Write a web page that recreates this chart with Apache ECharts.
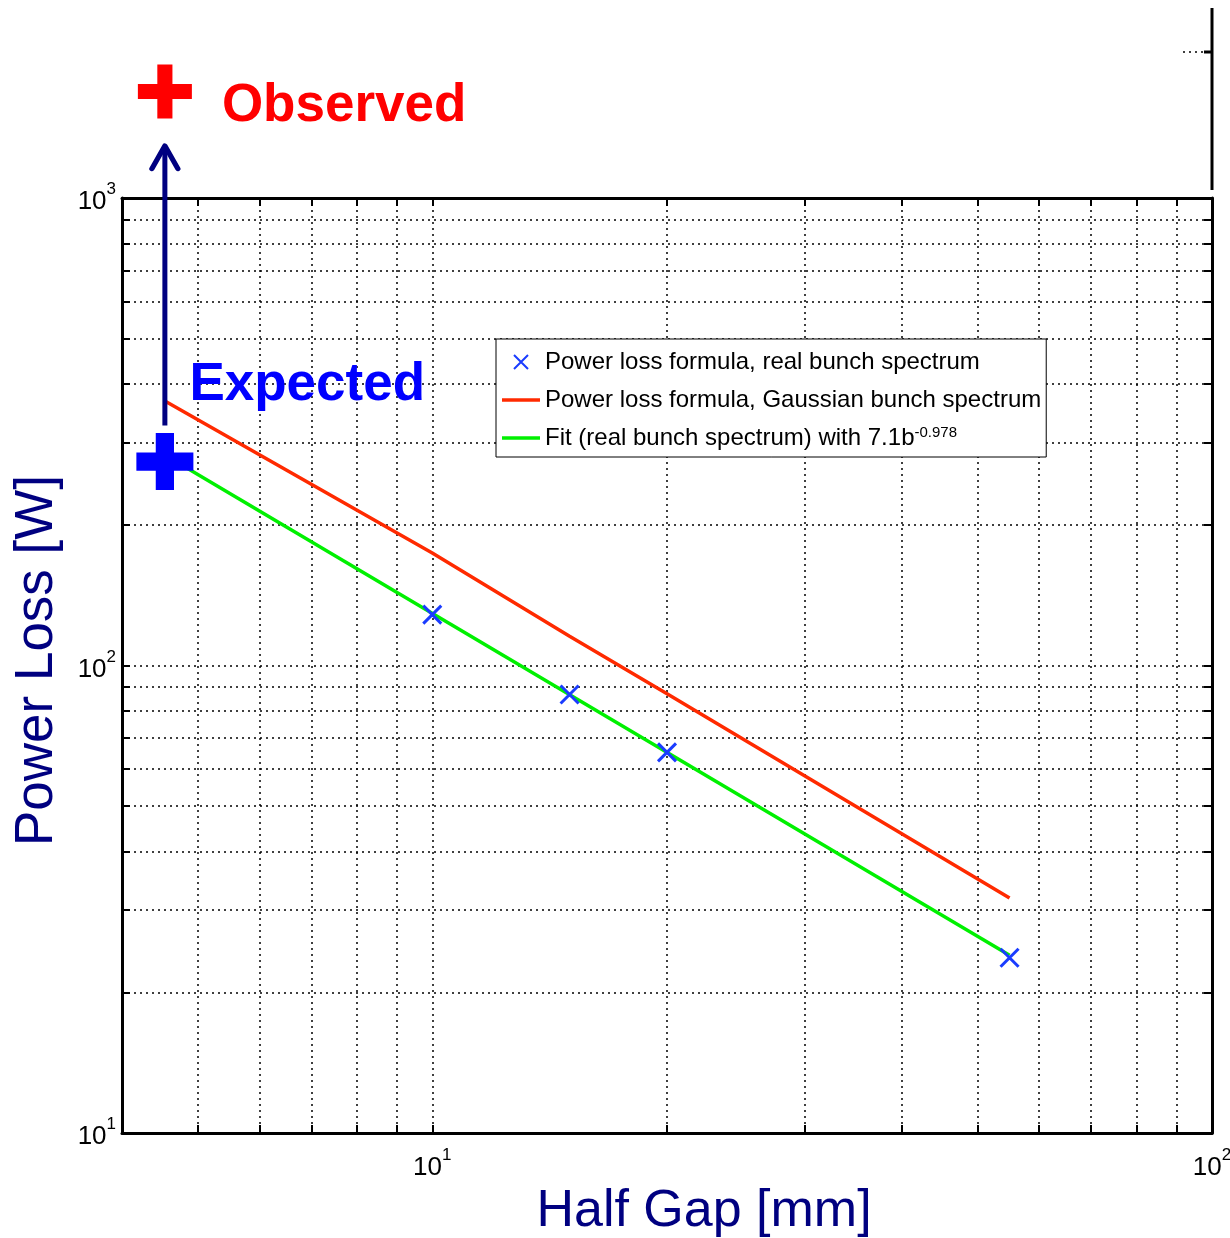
<!DOCTYPE html>
<html>
<head>
<meta charset="utf-8">
<script src="https://cdn.jsdelivr.net/npm/echarts@6/dist/echarts.min.js"></script>
<style>
  html, body { margin: 0; padding: 0; background: #fff; }
  #chart { width: 1230px; height: 1238px; }
</style>
</head>
<body>
<div id="chart"></div>
<script>
/** data */
const realGap = [10, 15, 20, 55];
const realLoss = [128.5, 86.7, 65.2, 23.7];

const gaussGap = [4.54, 10, 15, 20, 55];
const gaussLoss = [368, 174, 115.5, 87, 31.8];

const fitGap = [4.54, 55];
const fitLoss = [282, 24];

const expectedPoint = [4.54, 273];
const observedPoint = [4.54, 1690];
const arrowFrom = [4.54, 326];
const arrowTo = [4.54, 1290];

const xTicks = [5, 6, 7, 8, 9, 10, 20, 30, 40, 50, 60, 70, 80, 90, 100];
const yTicks = [10, 20, 30, 40, 50, 60, 70, 80, 90, 100, 200, 300, 400, 500, 600, 700, 800, 900, 1000];
const xLabels = [10, 100];
const yLabels = [10, 100, 1000];

const names = [
  "Power loss formula, real bunch spectrum",
  "Power loss formula, Gaussian bunch spectrum",
  "Fit (real bunch spectrum) with 7.1b-0.978",
];

const FONT = "'Liberation Sans', Arial, Helvetica, sans-serif";
const NAVY = "#000080";
const RED_LINE = "#ff2a00";
const GREEN_LINE = "#00f000";
const MARKER_BLUE = "#1a3cff";

const zip = (xs, ys) => xs.map((x, i) => [x, ys[i]]);

/** "10" with a raised exponent */
const powLabel = (v) => "{b|10}{s|" + Math.round(Math.log10(v)) + "}";
const powRich = {
  b: { fontSize: 26, lineHeight: 42, fontFamily: FONT, color: "#000" },
  s: { fontSize: 17, lineHeight: 19, verticalAlign: "top", fontFamily: FONT, color: "#000" },
};

const gridDots = { show: true, lineStyle: { color: "#000", width: 1.5, type: [2, 4] } };
const boxLine = { show: true, onZero: false, lineStyle: { color: "#000", width: 3 } };
const tickStyle = (values) => ({
  show: true, inside: true, length: 8, customValues: values,
  lineStyle: { color: "#000", width: 2 },
});

const crossPath = "path://M0,0 L10,10 M10,0 L0,10";
const bluePlus = "path://M8.5,0 H16.5 V8.5 H25 V16.5 H16.5 V25 H8.5 V16.5 H0 V8.5 H8.5 Z";
const redPlus = "path://M9,0 H16 V9 H25 V16 H16 V25 H9 V16 H0 V9 H9 Z";
const chevron = "path://M0,10 L10,0 L20,10";
const lineIcon = "path://M0,0 H38 V3.5 H0 Z";

const chart = echarts.init(document.getElementById("chart"), null, { renderer: "canvas" });

const option = {
  animation: false,
  backgroundColor: "#fff",
  textStyle: { fontFamily: FONT },

  grid: { left: 122, right: 18, top: 198, bottom: 105, containLabel: false, outerBoundsMode: "none" },

  xAxis: [
    {
      type: "log", logBase: 10, min: 4, max: 100, position: "bottom",
      axisLine: boxLine,
      axisTick: tickStyle(xTicks),
      minorTick: { show: false },
      splitLine: gridDots,
      axisLabel: {
        customValues: xLabels, margin: 14,
        formatter: powLabel, rich: powRich,
      },
      name: "Half Gap [mm]", nameLocation: "middle", nameGap: 46,
      nameTextStyle: { fontSize: 52, color: NAVY, fontFamily: FONT, padding: [0, 0, 0, 74] },
    },
    {
      type: "log", logBase: 10, min: 4, max: 100, position: "top",
      axisLine: boxLine,
      axisTick: tickStyle(xTicks),
      axisLabel: { show: false },
      splitLine: { show: false },
    },
  ],

  yAxis: [
    {
      type: "log", logBase: 10, min: 10, max: 1000, position: "left",
      axisLine: boxLine,
      axisTick: tickStyle(yTicks),
      splitLine: gridDots,
      axisLabel: {
        customValues: yLabels, margin: 6,
        formatter: powLabel, rich: powRich, padding: [8, 0, 0, 0],
      },
      name: "Power Loss [W]", nameLocation: "middle", nameGap: 58,
      nameTextStyle: { fontSize: 53, color: NAVY, fontFamily: FONT, padding: [0, 0, 0, 10] },
    },
    {
      type: "log", logBase: 10, min: 10, max: 1000, position: "right",
      axisLine: boxLine,
      axisTick: tickStyle(yTicks),
      axisLabel: { show: false },
      splitLine: { show: false },
    },
  ],

  legend: {
    data: [
      { name: names[0] },
      { name: names[1], icon: lineIcon },
      { name: names[2], icon: lineIcon },
    ],
    selectedMode: false,
    orient: "vertical",
    left: 496, top: 339,
    itemWidth: 38, itemHeight: 14, itemGap: 12,
    padding: [10, 5, 6, 6],
    borderColor: "#000", borderWidth: 1, backgroundColor: "#fff",
    textStyle: {
      fontSize: 24, lineHeight: 26, color: "#000", fontFamily: FONT,
      rich: {
        t: { fontSize: 24, lineHeight: 26, color: "#000", fontFamily: FONT },
        s: { fontSize: 15, lineHeight: 14, verticalAlign: "top", color: "#000", fontFamily: FONT },
      },
    },
    formatter: (name) => name === names[2]
      ? "{t|Fit (real bunch spectrum) with 7.1b}{s|-0.978}"
      : name,
  },

  series: [
    {
      name: names[1], type: "line", data: zip(gaussGap, gaussLoss),
      symbol: "none", lineStyle: { color: RED_LINE, width: 3.5 },
      itemStyle: { color: RED_LINE }, z: 3, silent: true,
    },
    {
      name: names[2], type: "line", data: zip(fitGap, fitLoss),
      symbol: "none", lineStyle: { color: GREEN_LINE, width: 3.5 },
      itemStyle: { color: GREEN_LINE }, z: 3, silent: true,
    },
    {
      name: names[0], type: "scatter", data: zip(realGap, realLoss),
      symbol: crossPath, symbolSize: 18,
      itemStyle: { color: "transparent", borderColor: MARKER_BLUE, borderWidth: 3, opacity: 1 },
      z: 4, silent: true,
    },
    {
      name: "arrow", type: "line", clip: false, silent: true, z: 5,
      symbol: "none",
      lineStyle: { color: NAVY, width: 5 },
      data: [
        { value: arrowFrom },
        {
          value: arrowTo, symbol: chevron, symbolSize: [26, 23], symbolOffset: [0, 11],
          itemStyle: { color: "transparent", borderColor: NAVY, borderWidth: 5, borderCap: "round", borderJoin: "round" },
        },
      ],
    },
    {
      name: "Expected", type: "scatter", clip: false, silent: true, z: 6,
      data: [expectedPoint],
      symbol: bluePlus, symbolSize: 57,
      itemStyle: { color: "#0000ff", opacity: 1 },
      label: {
        show: true, formatter: "Expected", position: [53, -48],
        align: "left", verticalAlign: "middle",
        fontSize: 53, fontWeight: "bold", color: "#0000ff", fontFamily: FONT,
      },
    },
    {
      name: "Observed", type: "scatter", clip: false, silent: true, z: 6,
      data: [observedPoint],
      symbol: redPlus, symbolSize: 54,
      itemStyle: { color: "#ff0000", opacity: 1 },
      label: {
        show: true, formatter: "Observed", position: [84, 42],
        align: "left", verticalAlign: "middle",
        fontSize: 53, fontWeight: "bold", color: "#ff0000", fontFamily: FONT,
      },
    },
  ],

  /** edge of a neighbouring panel, cut off in the top right corner */
  graphic: [
    { type: "line", shape: { x1: 1212, y1: 8, x2: 1212, y2: 190 }, style: { stroke: "#000", lineWidth: 3 } },
    { type: "line", shape: { x1: 1204, y1: 52, x2: 1212, y2: 52 }, style: { stroke: "#000", lineWidth: 3 } },
    { type: "line", shape: { x1: 1183, y1: 52, x2: 1204, y2: 52 }, style: { stroke: "#000", lineWidth: 1.5, lineDash: [2, 4] } },
  ],
};

chart.setOption(option);
</script>
</body>
</html>
